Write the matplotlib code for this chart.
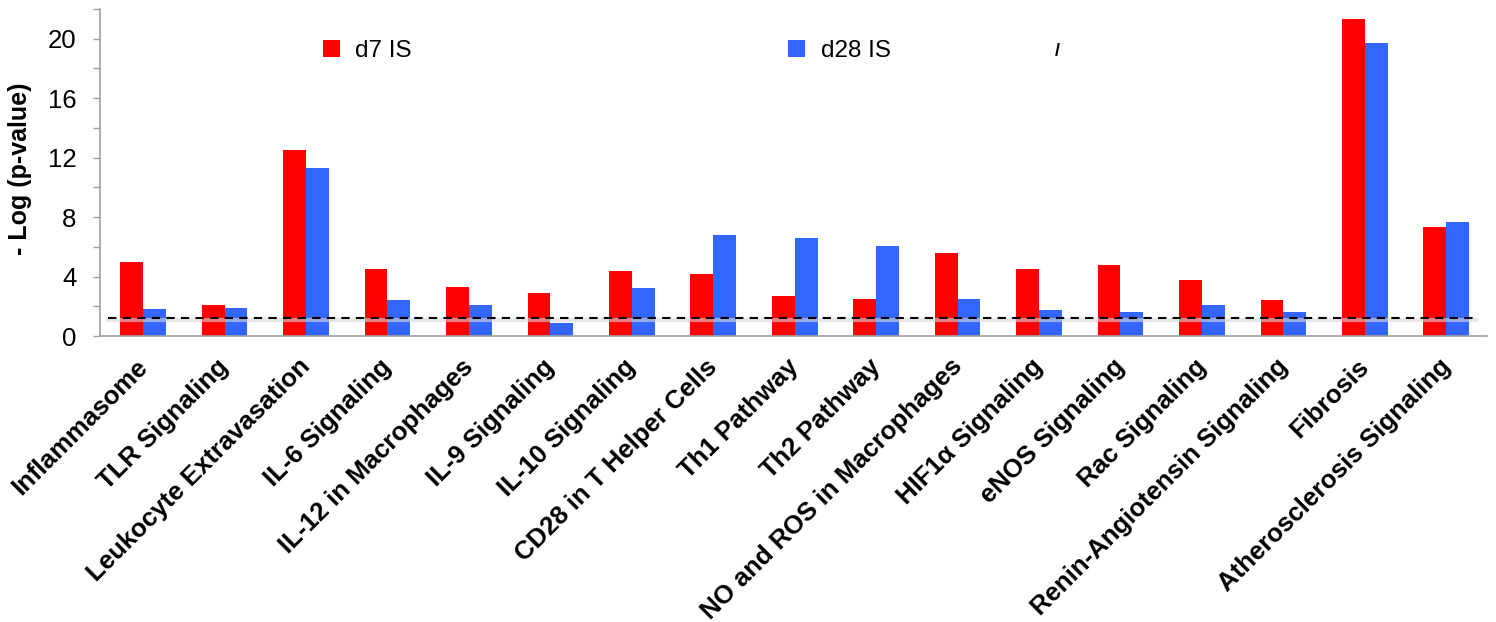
import matplotlib
matplotlib.use("Agg")
import matplotlib.pyplot as plt
import matplotlib.transforms as mtransforms
from matplotlib.patches import Patch
import numpy as np

categories = ["Inflammasome", "TLR Signaling", "Leukocyte Extravasation", "IL-6 Signaling",
              "IL-12 in Macrophages", "IL-9 Signaling", "IL-10 Signaling", "CD28 in T Helper Cells",
              "Th1 Pathway", "Th2 Pathway", "NO and ROS in Macrophages", "HIF1α Signaling",
              "eNOS Signaling", "Rac Signaling", "Renin-Angiotensin Signaling", "Fibrosis",
              "Atherosclerosis Signaling"]
d7_is = [5.0, 2.1, 12.5, 4.52, 3.31, 2.89, 4.4, 4.2, 2.7, 2.5, 5.57, 4.48, 4.81, 3.76, 2.44, 21.3, 7.3]
d28_is = [1.79, 1.88, 11.3, 2.4, 2.1, 0.87, 3.2, 6.8, 6.6, 6.05, 2.48, 1.72, 1.63, 2.1, 1.61, 19.7, 7.7]
series_names = ["d7 IS", "d28 IS"]
threshold = 1.2
yticks = list(range(0, 23, 2))
ytick_labels = [str(v) if v % 4 == 0 and v <= 20 else "" for v in yticks]

plt.rcParams['font.family'] = ['Liberation Sans', 'DejaVu Sans']

fig = plt.figure(figsize=(14.96, 6.22), dpi=100)
ax = fig.add_axes([100/1496, 1-336/622, 1387/1496, 327/622])

x = np.arange(len(categories))
w = 0.28
red = "#FF0000"
blue = "#3366FF"
ax.bar(x - w/2, d7_is, w, color=red, label=series_names[0], zorder=2)
ax.bar(x + w/2, d28_is, w, color=blue, label=series_names[1], zorder=2)

# threshold line with light shadow
ax.plot([-0.43, 16.37], [threshold - 0.12, threshold - 0.12], color="#d8d8d8", lw=3, alpha=0.6, zorder=3)
ax.plot([-0.43, 16.37], [threshold, threshold], color="black", lw=1.5, ls=(0, (4, 3)), zorder=4)

ax.set_xlim(-0.53, 16.5)
ax.set_ylim(0, 22)
ax.set_yticks(yticks)
ax.set_yticklabels(ytick_labels, fontsize=18.5)
ax.tick_params(axis='y', length=5, color="#a0a0a0", width=1, pad=12)
ax.set_xticks(x)
ax.set_xticklabels(categories, rotation=45, ha='right', rotation_mode='anchor',
                   fontsize=18.5, fontweight='bold')
ax.tick_params(axis='x', length=0, pad=22)
offset = mtransforms.ScaledTranslation(-0.08, 0.12, fig.dpi_scale_trans)
for lab in ax.get_xticklabels():
    lab.set_transform(lab.get_transform() + offset)

for s in ['top', 'right']:
    ax.spines[s].set_visible(False)
for s in ['left', 'bottom']:
    ax.spines[s].set_color("#a0a0a0")
    ax.spines[s].set_linewidth(1.2)

ax.set_ylabel("- Log (p-value)", fontsize=18, fontweight='bold')
ax.yaxis.set_label_coords(-0.049, 0.51)

handles = [Patch(facecolor=red), Patch(facecolor=blue)]
ax.legend(handles, series_names, loc='upper left', bbox_to_anchor=((323-100)/1387, (336-40)/327),
          ncol=2, frameon=False, fontsize=17.5, handlelength=0.7, handleheight=0.72,
          handletextpad=0.62, columnspacing=15.5, borderpad=0, borderaxespad=0)

fig.text(1057/1496, 1-52/622, "/", fontsize=13, fontweight='bold', ha='center', va='center')

fig.savefig("out.png", dpi=100)
